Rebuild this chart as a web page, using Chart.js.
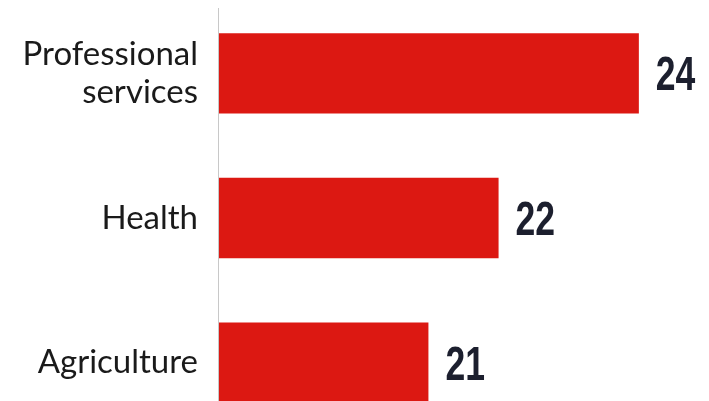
<!DOCTYPE html>
<html>
<head>
<meta charset="utf-8">
<script src="https://cdn.jsdelivr.net/npm/chart.js@4"></script>
<style>
  html, body { margin: 0; padding: 0; background: #fff; overflow: hidden; }
  canvas { display: block; }
</style>
</head>
<body>
<canvas id="chart" width="709" height="435"></canvas>
<script>
var categories = [['Professional', 'services'], 'Health', 'Agriculture'];
var values = [24, 22, 21];
var axisMin = 18;
var axisMax = 25;

// draws the numbers at bar ends and the thin left axis line
var valueLabels = {
  id: 'valueLabels',
  afterDatasetsDraw: function(chart) {
    var ctx = chart.ctx;
    var area = chart.chartArea;
    ctx.save();
    ctx.strokeStyle = '#c8c8c8';
    ctx.lineWidth = 1;
    ctx.beginPath();
    ctx.moveTo(area.left + 0.5, area.top + 7);
    ctx.lineTo(area.left + 0.5, area.bottom);
    ctx.stroke();

    var meta = chart.getDatasetMeta(0);
    ctx.fillStyle = '#1c1f2e';
    ctx.font = 'bold 48px "Liberation Sans"';
    ctx.textAlign = 'left';
    ctx.textBaseline = 'alphabetic';
    meta.data.forEach(function(bar, i) {
      ctx.save();
      ctx.translate(bar.x + 17, bar.y + 17);
      ctx.scale(0.74, 1);
      ctx.fillText(String(values[i]), 0, 0);
      ctx.restore();
    });
    ctx.restore();
  }
};

new Chart(document.getElementById('chart'), {
  type: 'bar',
  data: {
    labels: categories,
    datasets: [{
      data: values,
      backgroundColor: '#dc1812',
      borderWidth: 0,
      barPercentage: 0.555,
      categoryPercentage: 1
    }]
  },
  options: {
    indexAxis: 'y',
    responsive: false,
    animation: false,
    layout: { padding: { top: 1, right: 0, bottom: 0, left: 0 } },
    plugins: { legend: { display: false }, tooltip: { enabled: false } },
    scales: {
      x: {
        display: false,
        min: axisMin,
        max: axisMax
      },
      y: {
        grid: { display: false, drawTicks: false },
        border: { display: false },
        afterFit: function(scale) {
          scale.width = 218;
          scale.paddingTop = 0;
          scale.paddingBottom = 0;
        },
        ticks: {
          color: '#1a1a1a',
          padding: 20,
          font: { family: 'Lato', size: 33, lineHeight: 1.15 }
        }
      }
    }
  },
  plugins: [valueLabels]
});
</script>
</body>
</html>
